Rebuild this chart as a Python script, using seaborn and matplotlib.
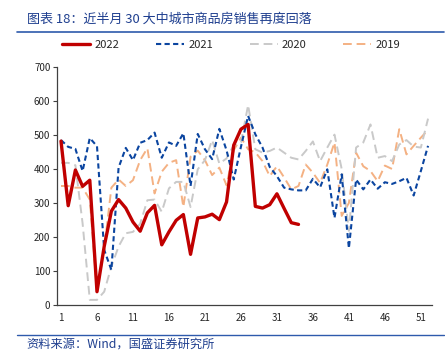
import numpy as np
import pandas as pd
import seaborn as sns
import matplotlib.pyplot as plt
from matplotlib.lines import Line2D

# weekly sales, 30 large/medium cities (10k m2)
weeks = list(range(1, 53))
s2022 = [482, 292, 397, 349, 367, 39, 172, 276, 310, 285, 244, 217, 271, 293, 177, 215, 249, 266,
         149, 256, 259, 267, 251, 303, 470, 517, 531, 290, 285, 295, 327, 284, 242, 237]
s2021 = [485, 465, 459, 394, 491, 467, 162, 103, 404, 462, 426, 477, 485, 507, 433, 478, 468, 505,
         350, 503, 458, 429, 518, 455, 369, 465, 556, 502, 463, 406, 379, 345, 340, 337, 337, 371,
         346, 399, 256, 384, 167, 369, 340, 369, 342, 361, 356, 364, 374, 322, 394, 468]
s2020 = [418, 418, 411, 240, 15, 15, 39, 113, 172, 211, 215, 239, 308, 310, 274, 343, 362, 362,
         288, 399, 426, 485, 416, 431, 470, 478, 588, 458, 448, 453, 463, 448, 433, 428, 453, 481,
         423, 463, 501, 400, 218, 463, 478, 531, 433, 438, 423, 472, 485, 466, 463, 548]
s2019 = [350, 350, 345, 345, 310, 39, 165, 345, 369, 350, 367, 426, 461, 328, 392, 418, 426, 288,
         436, 454, 426, 382, 404, 352, 455, 492, 458, 449, 423, 379, 408, 375, 340, 350, 413, 389,
         359, 413, 478, 262, 300, 448, 408, 394, 364, 410, 400, 517, 443, 468, 492, 515]

x_ticks = list(range(1, 52, 5))
y_ticks = list(range(0, 701, 100))

title = "图表 18：近半月 30 大中城市商品房销售再度回落"
source = "资料来源：Wind，国盛证券研究所"

sns.set_style("ticks")
plt.rcParams['font.family'] = ['Noto Sans CJK SC', 'DejaVu Sans']

fig = plt.figure(figsize=(4.45, 3.62), dpi=100)
ax = fig.add_axes([0.129, 0.1575, 0.841, 0.6575])

series = [
    ("2019", s2019, "#F4B183", (0, (4.5, 2.5)), 1.4),
    ("2020", s2020, "#C9C9C9", (0, (4.5, 2.5)), 1.4),
    ("2021", s2021, "#0B45A0", (0, (2.5, 1.6)), 1.5),
    ("2022", s2022, "#C00000", "-", 2.4),
]
for name, vals, col, ls, lw in series:
    sns.lineplot(x=weeks[:len(vals)], y=vals, ax=ax, color=col, linestyle=ls,
                 linewidth=lw, legend=False)

ax.set_xlim(0.5, 52.5)
ax.set_ylim(0, 700)
ax.set_xticks(x_ticks)
ax.set_yticks(y_ticks)
ax.tick_params(axis='x', length=0, labelsize=7, pad=6)
ax.tick_params(axis='y', length=3, labelsize=7, pad=2, color="#404040")
sns.despine(ax=ax)
for sp in ("left", "bottom"):
    ax.spines[sp].set_color("#404040")
    ax.spines[sp].set_linewidth(0.9)

handles = [Line2D([], [], color="#C00000", lw=2.4),
           Line2D([], [], color="#0B45A0", lw=1.5, ls=(0, (2.5, 1.6))),
           Line2D([], [], color="#C9C9C9", lw=1.4, ls=(0, (4.5, 2.5))),
           Line2D([], [], color="#F4B183", lw=1.4, ls=(0, (4.5, 2.5)))]
fig.legend(handles, ["2022", "2021", "2020", "2019"], loc="center", ncol=4,
           bbox_to_anchor=(0.52, 0.875), frameon=False, fontsize=8,
           handlelength=2.5, columnspacing=3.3, handletextpad=0.4)

title_col = "#1F3F8F"
fig.text(0.06, 0.948, title, fontsize=9.4, color=title_col, style="italic",
         ha="left", va="center")
fig.add_artist(Line2D([0.038, 0.997], [0.911, 0.911], color="#2E5AAC", lw=1.2))
fig.add_artist(Line2D([0.038, 0.997], [0.075, 0.075], color="#2E5AAC", lw=1.0))
fig.text(0.06, 0.05, source, fontsize=8.8, color=title_col, style="italic",
         ha="left", va="center")

fig.savefig("out.png", dpi=100)
